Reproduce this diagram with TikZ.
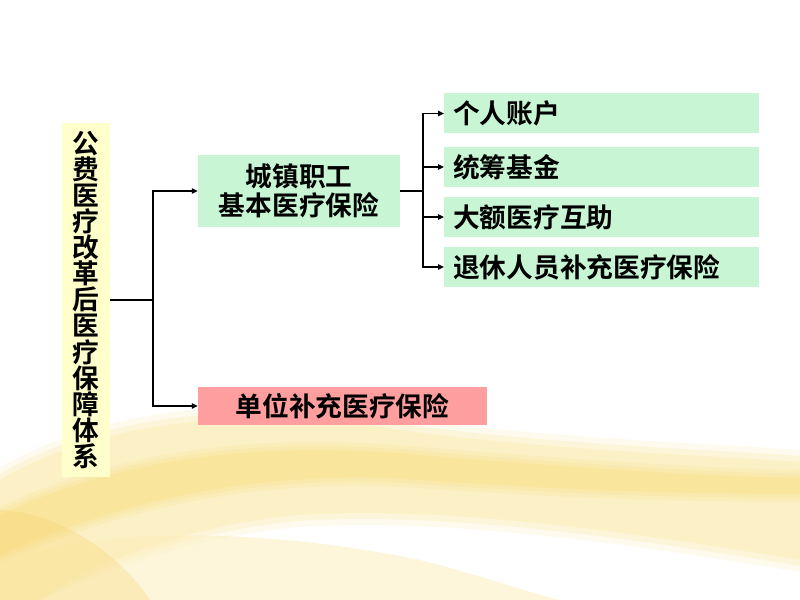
\documentclass[tikz,border=0pt]{standalone}
\usepackage{fontspec}
\setmainfont{Noto Sans CJK SC}[BoldFont={Noto Sans CJK SC Bold}]
\usetikzlibrary{arrows.meta}

\definecolor{boxgreen}{RGB}{200,246,212}
\definecolor{boxpink}{RGB}{255,158,158}
\definecolor{boxyellow}{RGB}{255,255,204}
\definecolor{wavelight}{RGB}{252,238,185}
\definecolor{wavemid}{RGB}{250,226,140}
\definecolor{wavedeep}{RGB}{247,212,105}

\begin{document}
\begin{tikzpicture}[x=0.03cm,y=-0.03cm,
    box/.style={rectangle,inner sep=0pt,font=\fontsize{22.8}{24.5}\selectfont\bfseries},
    leafbox/.style={box,fill=boxgreen,anchor=west,minimum height=1.2cm,
      inner xsep=0.27cm,text width=8.91cm,align=left},
    link/.style={line width=1.5pt},
    arrowlink/.style={link,-{Triangle[length=5pt,width=4.5pt]}}]

   % background
   \fill[white] (0,0) rectangle (800,600);
   \useasboundingbox (0,0) rectangle (800,600);
   \foreach \op/\dy in {.25/-12,.35/-6,.6/0}
     \fill[wavelight,opacity=\op] (0,480+\dy) .. controls (100,420+\dy) and (250,405+\dy) .. (400,430+\dy)
        .. controls (550,450+\dy) and (700,455+\dy) .. (800,462+\dy) -- (800,560-\dy)
        .. controls (650,535-\dy) and (450,505-\dy) .. (300,515-\dy)
        .. controls (180,525-\dy) and (80,570-\dy) .. (40,600) -- (0,600) -- cycle;
   \foreach \op/\dy in {.2/-8,.3/-4,.45/0}
     \fill[wavemid,opacity=\op] (0,515+\dy) .. controls (120,458+\dy) and (260,440+\dy) .. (420,455+\dy)
        .. controls (580,468+\dy) and (700,476+\dy) .. (800,478+\dy) -- (800,494-\dy)
        .. controls (680,494-\dy) and (560,490-\dy) .. (420,480-\dy)
        .. controls (280,470-\dy) and (140,492-\dy) .. (0,555-\dy) -- cycle;
   \fill[wavelight,opacity=.5] (0,600) -- (0,560) .. controls (100,530) and (250,525) .. (420,560)
      .. controls (480,575) and (520,590) .. (560,600) -- cycle;
   \fill[wavedeep,opacity=.3] (0,600) -- (0,510) .. controls (60,512) and (120,555) .. (150,600) -- cycle;

   % nodes
   \node[box,fill=boxyellow,minimum width=1.44cm,minimum height=10.62cm,align=center,
      font=\fontsize{22.8}{22.2}\selectfont\bfseries] (gongfei) at (86,300)
      {公\\费\\医\\疗\\改\\革\\后\\医\\疗\\保\\障\\体\\系};
   \node[box,fill=boxgreen,minimum width=6.06cm,minimum height=2.16cm,align=center] (chengzhen) at (299,191)
      {城镇职工\\基本医疗保险};
   \node[box,fill=boxpink,minimum width=8.67cm,minimum height=1.14cm] (danwei) at (342.5,406)
      {单位补充医疗保险};
   \node[leafbox] (geren) at (444,113.5) {个人账户};
   \node[leafbox] (tongchou) at (444,167) {统筹基金};
   \node[leafbox] (dae) at (444,217) {大额医疗互助};
   \node[leafbox] (tuixiu) at (444,267) {退休人员补充医疗保险};

   \coordinate (ltrunk) at (153,300);
   \coordinate (rtrunk) at (423,191);

   % connectors
   \draw[link] (gongfei) -- (ltrunk);
   \draw[arrowlink] (ltrunk) |- (chengzhen);
   \draw[arrowlink] (ltrunk) |- (danwei);
   \draw[link] (chengzhen) -- (rtrunk);
   \draw[arrowlink] (rtrunk) |- (geren);
   \draw[arrowlink] (rtrunk) |- (tongchou);
   \draw[arrowlink] (rtrunk) |- (dae);
   \draw[arrowlink] (rtrunk) |- (tuixiu);

\end{tikzpicture}
\end{document}
